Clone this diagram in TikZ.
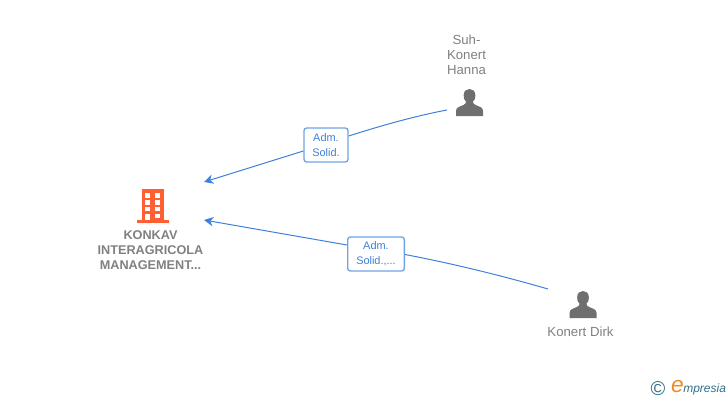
\documentclass[tikz,border=0pt]{standalone}
\usepackage{fontspec}
\setmainfont{Liberation Sans}
\definecolor{linkblue}{HTML}{3F80DC}
\definecolor{boxblue}{HTML}{6FA3E6}
\definecolor{labtext}{HTML}{3F7FD8}
\definecolor{persongray}{HTML}{6F6F6F}
\definecolor{nametext}{HTML}{808080}
\definecolor{orangeb}{HTML}{FF5F33}
\definecolor{tealc}{HTML}{2F7088}
\definecolor{orangee}{HTML}{F08A1D}
\usetikzlibrary{arrows.meta}
\tikzset{
  link/.style={draw=linkblue,line width=0.75pt},
  arrowlink/.style={link,-{Stealth[length=7pt,width=7pt,inset=2.2pt]}},
  rolebox/.style={draw=boxblue,line width=1pt,fill=white,rounded corners=2pt,text=labtext,font=\fontsize{8.2}{11.3}\selectfont,align=center,inner sep=0pt},
  namelabel/.style={text=nametext,font=\fontsize{9.9}{11.25}\selectfont,align=center,inner sep=0pt},
  boldlabel/.style={text=nametext,font=\bfseries\fontsize{9.5}{11.25}\selectfont,align=center,inner sep=0pt},
}
\newcommand{\personicon}[2]{%
  \fill[persongray,shift={(#1,#2)}]
    (-13.5,18) -- (-13.5,13) .. controls (-13.5,9.5) and (-10,8.5) .. (-6,7)
    .. controls (-4,6) and (-3.5,5) .. (-3.5,3.5)
    .. controls (-6,1) and (-6,-1) .. (-5.8,-3)
    .. controls (-5.8,-7) and (-3,-9) .. (0,-9)
    .. controls (3,-9) and (5.8,-7) .. (5.8,-3)
    .. controls (6,-1) and (6,1) .. (3.5,3.5)
    .. controls (3.5,5) and (4,6) .. (6,7)
    .. controls (10,8.5) and (13.5,9.5) .. (13.5,13)
    -- (13.5,18) -- cycle;
}
\begin{document}
\begin{tikzpicture}[x=0.75pt,y=-0.75pt]
\useasboundingbox (0,0) rectangle (728,400);
% building
\fill[orangeb] (141.5,189) rectangle (163.5,220.5);
\fill[orangeb] (137,220) rectangle (168.5,223);
\foreach \xx in {147.5,157.5}{
  \fill[white] (\xx-2.5,193) rectangle (\xx+2.5,198);
  \fill[white] (\xx-2.5,200.3) rectangle (\xx+2.5,204.5);
  \fill[white] (\xx-2.5,207) rectangle (\xx+2.5,211.3);
}
\fill[white] (145,213.5) rectangle (150,220);
\fill[white] (155,213.5) rectangle (160,217.5);
\node[boldlabel] (company) at (150.5,250) {KONKAV\\INTERAGRICOLA\\MANAGEMENT...};
\coordinate (cA) at (204,182);
\coordinate (cB) at (204,220);
% persons
\personicon{469.5}{98}
\personicon{583}{300}
\node[namelabel] (suh) at (466.5,55) {Suh-\\Konert\\Hanna};
\node[namelabel] (dirk) at (580.5,332) {Konert Dirk};
\coordinate (pA) at (447,110);
\coordinate (pB) at (548,289);
% role boxes
\node[rolebox,minimum width=33pt,minimum height=25.5pt] (r1) at (326,145) {Adm.\\Solid.};
\node[rolebox,minimum width=42.5pt,minimum height=25.5pt] (r2) at (376,254) {Adm.\\Solid.,...};
% connectors
\draw[link] (pA) .. controls (415,116) and (380,126) .. (r1.east |- 0,136);
\draw[arrowlink] (r1.west |- 0,151) -- (cA);
\draw[link] (pB) .. controls (510,278) and (460,265) .. (r2.east |- 0,254.5);
\draw[arrowlink] (r2.west |- 0,245) -- (cB);
% logo
\node[text=tealc,font=\fontsize{15}{15}\selectfont,inner sep=0pt] (copy) at (658,389) {©};
\node[text=orangee,font=\itshape\fontsize{17}{17}\selectfont,inner sep=0pt] (e) at (677.5,387) {e};
\node[text=tealc,font=\itshape\fontsize{9}{10}\selectfont,inner sep=0pt,anchor=west] (brand) at (683,389.5) {mpresia};
\end{tikzpicture}
\end{document}
